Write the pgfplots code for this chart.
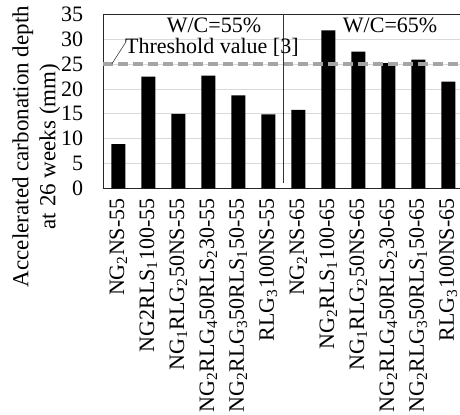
\documentclass[border=0pt]{standalone}
\usepackage{pgfplots}
\pgfplotsset{compat=1.18}
\usepackage{fontspec}
\setmainfont{Liberation Serif}
\newcommand{\fs}{\fontsize{22bp}{27bp}\selectfont}
\newcommand{\fsl}{\fontsize{23bp}{27bp}\selectfont}
\definecolor{gridc}{RGB}{217,217,217}
\definecolor{thr}{RGB}{165,165,165}
\begin{document}
\begin{tikzpicture}
\begin{axis}[
  at={(103.3bp,226.7bp)}, anchor=south west,
  scale only axis, width=360bp, height=173.8bp,
  xmin=-0.5, xmax=11.5, ymin=0, ymax=35,
  ytick={0,5,...,35},
  xtick={0,...,11},
  xticklabels={
    {NG\textsubscript{2}NS-55},
    {NG2RLS\textsubscript{1}100-55},
    {NG\textsubscript{1}RLG\textsubscript{2}50NS-55},
    {NG\textsubscript{2}RLG\textsubscript{4}50RLS\textsubscript{2}30-55},
    {NG\textsubscript{2}RLG\textsubscript{3}50RLS\textsubscript{1}50-55},
    {RLG\textsubscript{3}100NS-55},
    {NG\textsubscript{2}NS-65},
    {NG\textsubscript{2}RLS\textsubscript{1}100-65},
    {NG\textsubscript{1}RLG\textsubscript{2}50NS-65},
    {NG\textsubscript{2}RLG\textsubscript{4}50RLS\textsubscript{2}30-65},
    {NG\textsubscript{2}RLG\textsubscript{3}50RLS\textsubscript{1}50-65},
    {RLG\textsubscript{3}100NS-65}},
  major tick length=0pt,
  ymajorgrids, grid style={gridc, line width=0.75bp},
  axis line style={black!85, line width=0.8bp},
  /pgf/number format/assume math mode=true,
  tick label style={font=\fs},
  yticklabel style={inner sep=0pt, xshift=-20bp},
  xticklabel style={yshift=-10bp, rotate=90, anchor=east, inner sep=0pt},
  ylabel={Accelerated carbonation depth\\at 26 weeks (mm)},
  ylabel style={align=center, font=\fsl, at={(axis description cs:-0.186,0.24)}, anchor=center, inner sep=0pt},
  clip=false,
]
\addplot[ybar, bar width=14bp, fill=black, draw=none] coordinates {
  (0,8.9) (1,22.5) (2,15.0) (3,22.7) (4,18.7) (5,14.9)
  (6,15.8) (7,31.8) (8,27.5) (9,25.2) (10,25.9) (11,21.5)};
\addplot[thr, line width=3.5bp, dash pattern=on 10bp off 5bp] coordinates {(-0.5,25) (11.5,25)};
\draw[black!80, line width=0.8bp] (axis cs:5.5,1) -- (axis cs:5.5,35);
\draw[black!75, line width=0.6bp] (axis cs:-0.22,25) -- (axis cs:0.257,29.5);
\node[font=\fs, anchor=base, inner sep=0pt] at (axis cs:3.19,31.3) {W/C=55\%};
\node[font=\fs, anchor=base, inner sep=0pt] at (axis cs:9.06,31.3) {W/C=65\%};
\node[font=\fs, anchor=base west, inner sep=0pt] at (axis cs:0.22,27.2) {Threshold value [3]};
\end{axis}
\pgfresetboundingbox
\useasboundingbox (0,0) rectangle (460bp,415bp);
\end{tikzpicture}
\end{document}
